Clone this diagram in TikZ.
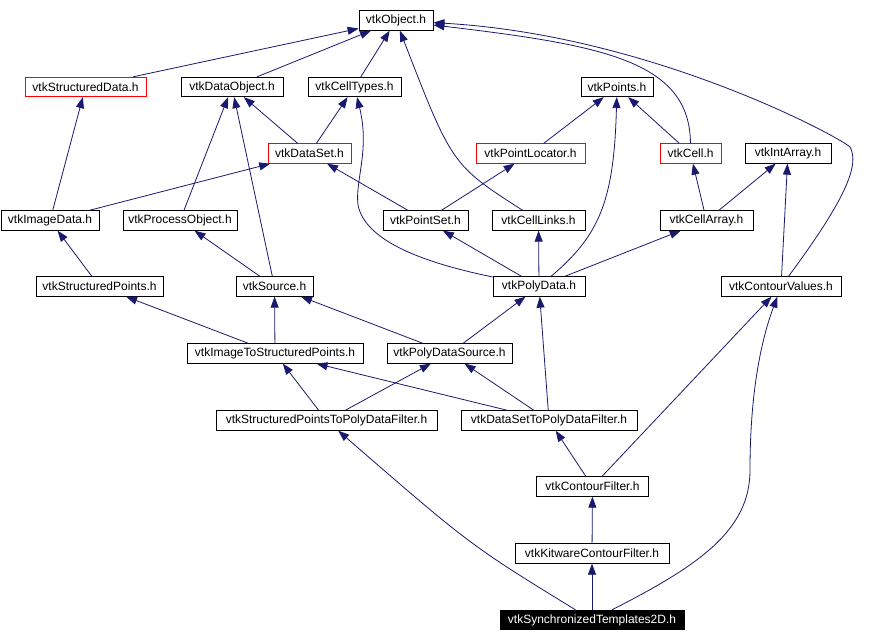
\documentclass[tikz,border=0pt]{standalone}
\usepackage{fontspec}
\setmainfont{Liberation Sans}
\usetikzlibrary{arrows.meta}

\definecolor{edgeblue}{RGB}{25,25,112}

\newcommand*{\rowa}{20.5}
\newcommand*{\rowb}{87}
\newcommand*{\rowc}{153.5}
\newcommand*{\rowd}{220.5}
\newcommand*{\rowe}{286.5}
\newcommand*{\rowf}{353.5}
\newcommand*{\rowg}{420.5}
\newcommand*{\rowh}{486.5}
\newcommand*{\rowi}{553.5}
\newcommand*{\rowj}{620}

\begin{document}
\begin{tikzpicture}
[
	x=1pt, y=-1pt,
	hfile/.style={rectangle,draw,line width=0.8pt,inner sep=0pt,minimum height=19.5pt,font=\fontsize{12}{14}\selectfont},
	badfile/.style={hfile,draw=red},
	curfile/.style={hfile,fill=black,text=white},
	incl/.style={-{Triangle[length=11pt,width=8pt]},edgeblue,line width=0.8pt}
]
	\useasboundingbox (0,0) rectangle (885,642);

	% headers
	\node[hfile,minimum width=74pt] at (396,\rowa) (obj) {vtkObject.h};

	\node[badfile,minimum width=121pt] at (85.5,\rowb) (sdata) {vtkStructuredData.h};
	\node[hfile,minimum width=102pt] at (232,\rowb) (dobj) {vtkDataObject.h};
	\node[hfile,minimum width=93pt] at (354.5,\rowb) (ctypes) {vtkCellTypes.h};
	\node[hfile,minimum width=72pt] at (617,\rowb) (pts) {vtkPoints.h};

	\node[badfile,minimum width=83pt] at (309.5,\rowc) (dset) {vtkDataSet.h};
	\node[badfile,minimum width=109pt] at (530.5,\rowc) (ploc) {vtkPointLocator.h};
	\node[badfile,minimum width=61pt] at (690.5,\rowc) (cell) {vtkCell.h};
	\node[hfile,minimum width=86pt] at (788,\rowc) (iarr) {vtkIntArray.h};

	\node[hfile,minimum width=98pt] at (50,\rowd) (idata) {vtkImageData.h};
	\node[hfile,minimum width=114pt] at (180,\rowd) (pobj) {vtkProcessObject.h};
	\node[hfile,minimum width=85pt] at (425.5,\rowd) (pset) {vtkPointSet.h};
	\node[hfile,minimum width=93pt] at (538.5,\rowd) (clinks) {vtkCellLinks.h};
	\node[hfile,minimum width=93pt] at (706.5,\rowd) (carr) {vtkCellArray.h};

	\node[hfile,minimum width=127pt] at (99.5,\rowe) (spts) {vtkStructuredPoints.h};
	\node[hfile,minimum width=77pt] at (274.5,\rowe) (src) {vtkSource.h};
	\node[hfile,minimum width=92pt] at (539,\rowe) (pdata) {vtkPolyData.h};
	\node[hfile,minimum width=120pt] at (781,\rowe) (cvals) {vtkContourValues.h};

	\node[hfile,minimum width=176pt] at (275,\rowf) (itsp) {vtkImageToStructuredPoints.h};
	\node[hfile,minimum width=125pt] at (449.5,\rowf) (pdsrc) {vtkPolyDataSource.h};

	\node[hfile,minimum width=221pt] at (326.5,\rowg) (sptpdf) {vtkStructuredPointsToPolyDataFilter.h};
	\node[hfile,minimum width=176pt] at (549,\rowg) (dstpdf) {vtkDataSetToPolyDataFilter.h};

	\node[hfile,minimum width=112pt] at (592.5,\rowh) (cfilt) {vtkContourFilter.h};
	\node[hfile,minimum width=154pt] at (592,\rowi) (kcfilt) {vtkKitwareContourFilter.h};
	\node[curfile,minimum width=184pt] at (592,\rowj) (synt) {vtkSynchronizedTemplates2D.h};

	% includes
	\draw[incl] (sdata) -- (obj);
	\draw[incl] (dobj) -- (obj);
	\draw[incl] (ctypes) -- (obj);
	\draw[incl] (clinks) .. controls (452,165) .. (obj);
	\draw[incl] (cell) .. controls (690,60) and (600,45) .. (obj);
	\draw[incl] (cvals) .. controls (845,200) and (860,165) .. (850,147)
		.. controls (838,136) and (650,35) .. (obj);

	\draw[incl] (idata) -- (sdata);
	\draw[incl] (pobj) -- (dobj);
	\draw[incl] (src) -- (dobj);
	\draw[incl] (dset) -- (dobj);
	\draw[incl] (dset) -- (ctypes);
	\draw[incl] (pdata) .. controls (420,262) and (365,240) .. (358,205)
		.. controls (355,180) and (370,150) .. (ctypes);

	\draw[incl] (idata) -- (dset);
	\draw[incl] (pset) -- (dset);
	\draw[incl] (ploc) -- (pts);
	\draw[incl] (pdata) .. controls (600,235) and (614,200) .. (pts);
	\draw[incl] (cell) -- (pts);
	\draw[incl] (pset) -- (ploc);
	\draw[incl] (carr) -- (cell);
	\draw[incl] (carr) -- (iarr);
	\draw[incl] (cvals) -- (iarr);

	\draw[incl] (spts) -- (idata);
	\draw[incl] (src) -- (pobj);
	\draw[incl] (pdata) -- (pset);
	\draw[incl] (pdata) -- (clinks);
	\draw[incl] (pdata) -- (carr);

	\draw[incl] (itsp) -- (spts);
	\draw[incl] (itsp) -- (src);
	\draw[incl] (pdsrc) -- (src);
	\draw[incl] (pdsrc) -- (pdata);
	\draw[incl] (dstpdf) -- (pdata);

	\draw[incl] (sptpdf) -- (itsp);
	\draw[incl] (sptpdf) -- (pdsrc);
	\draw[incl] (dstpdf) -- (itsp);
	\draw[incl] (dstpdf) -- (pdsrc);

	\draw[incl] (cfilt) -- (dstpdf);
	\draw[incl] (cfilt) -- (cvals);
	\draw[incl] (kcfilt) -- (cfilt);
	\draw[incl] (synt) -- (kcfilt);
	\draw[incl] (synt) .. controls (470,545) .. (sptpdf);
	\draw[incl] (synt) .. controls (700,565) and (750,530) .. (750,470)
		.. controls (750,380) and (765,330) .. (cvals);

\end{tikzpicture}
\end{document}
